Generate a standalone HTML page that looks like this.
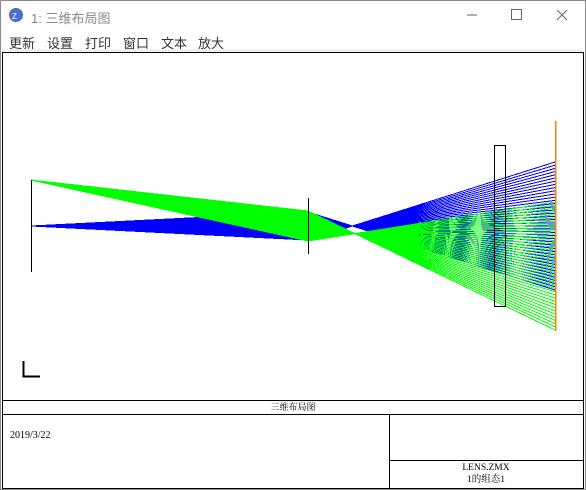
<!DOCTYPE html>
<html><head><meta charset="utf-8"><style>
body{margin:0;width:586px;height:490px;overflow:hidden;background:#fff;font-family:"Liberation Sans","Noto Sans CJK SC",sans-serif}
.win{position:absolute;left:0;top:0;width:584px;height:488px;border:1px solid #8a8a8a;background:#fff}
.title{position:absolute;left:30px;top:7px;font-size:13px;color:#888}
.menu{position:absolute;top:32px;font-size:13px;color:#333}
</style></head><body>
<div class="win">
<svg width="586" height="490" style="position:absolute;left:-1px;top:-1px">
<circle cx="16" cy="15" r="7" fill="#4a6fd0"/>
<text x="12" y="19" font-size="8" fill="#fff" font-family="Liberation Sans">Z</text>
<line x1="467" y1="15" x2="477" y2="15" stroke="#666"/>
<rect x="511.5" y="9.5" width="10" height="10" fill="none" stroke="#666"/>
<path d="M557 10L567 20M567 10L557 20" stroke="#666"/>
<rect x="2" y="49" width="582" height="3" fill="#f0f0f0"/>
<rect x="2.5" y="52.5" width="581" height="436" fill="#fff" stroke="#000"/>
<line x1="2" y1="400.5" x2="584" y2="400.5" stroke="#000"/>
<line x1="2" y1="414.5" x2="584" y2="414.5" stroke="#000"/>
<line x1="389.5" y1="414" x2="389.5" y2="488" stroke="#000"/>
<line x1="389" y1="460.5" x2="584" y2="460.5" stroke="#000"/>
<text x="293" y="410" font-size="9" text-anchor="middle" font-family="Liberation Serif,'Noto Serif CJK SC',serif">三维布局图</text>
<text x="10" y="438" font-size="10" font-family="Liberation Serif,serif">2019/3/22</text>
<text x="486" y="470" font-size="9.5" text-anchor="middle" font-family="Liberation Serif,serif">LENS.ZMX</text>
<text x="486" y="482" font-size="9.5" text-anchor="middle" font-family="Liberation Serif,'Noto Serif CJK SC',serif">1的组态1</text>
<path d="M23.5 361V376.5H40" stroke="#000" stroke-width="2" fill="none"/>
<g id="rays" shape-rendering="crispEdges"></g>
<line x1="31.5" y1="180" x2="31.5" y2="272" stroke="#000"/>
<line x1="308.5" y1="198" x2="308.5" y2="254" stroke="#000"/>
<rect x="494.5" y="145.5" width="11" height="161" fill="none" stroke="#000"/>
<rect x="555" y="121" width="1.5" height="210" fill="#ff8000"/>
</svg>
<div class="title">1: 三维布局图</div>
<div class="menu" style="left:8px">更新</div>
<div class="menu" style="left:46px">设置</div>
<div class="menu" style="left:84px">打印</div>
<div class="menu" style="left:122px">窗口</div>
<div class="menu" style="left:160px">文本</div>
<div class="menu" style="left:197px">放大</div>
</div>
<script>
// surface positions (pixel-scale units along axis)
const surfaceZ = [0, 277, 524];
const fieldNames = ['field-1', 'field-2'];
const fieldColors = ['#0000ff', '#00ff00'];
const objectHeights = [0, 46];
const lensTop = [14, 15], lensBottom = [-14, -15];
const imageTop = [64, 24], imageBottom = [-64, -104];
const pupilCoords = [-1,-0.95,-0.9,-0.85,-0.8,-0.75,-0.7,-0.65,-0.6,-0.55,-0.5,-0.45,-0.4,-0.35,-0.3,-0.25,-0.2,-0.15,-0.1,-0.05,0,0.05,0.1,0.15,0.2,0.25,0.3,0.35,0.4,0.45,0.5,0.55,0.6,0.65,0.7,0.75,0.8,0.85,0.9,0.95,1];
const x0 = 31, axisY = 226;
const sx = z => x0 + z;
const sy = h => axisY - h;
const g = document.getElementById('rays');
fieldNames.forEach((f, i) => {
  pupilCoords.forEach((p, j) => {
    const t = (p + 1) / 2;
    const hl = lensBottom[i] + (lensTop[i] - lensBottom[i]) * t;
    const hi = imageTop[i] + (imageBottom[i] - imageTop[i]) * t;
    const pl = document.createElementNS('http://www.w3.org/2000/svg', 'polyline');
    pl.setAttribute('points', `${sx(surfaceZ[0])},${sy(objectHeights[i])} ${sx(surfaceZ[1])},${sy(hl)} ${sx(surfaceZ[2])},${sy(hi)}`);
    pl.setAttribute('fill', 'none');
    pl.setAttribute('stroke', fieldColors[i]);
    pl.setAttribute('stroke-width', '1');
    
    
    g.appendChild(pl);
  });
});
</script>
</body></html>
